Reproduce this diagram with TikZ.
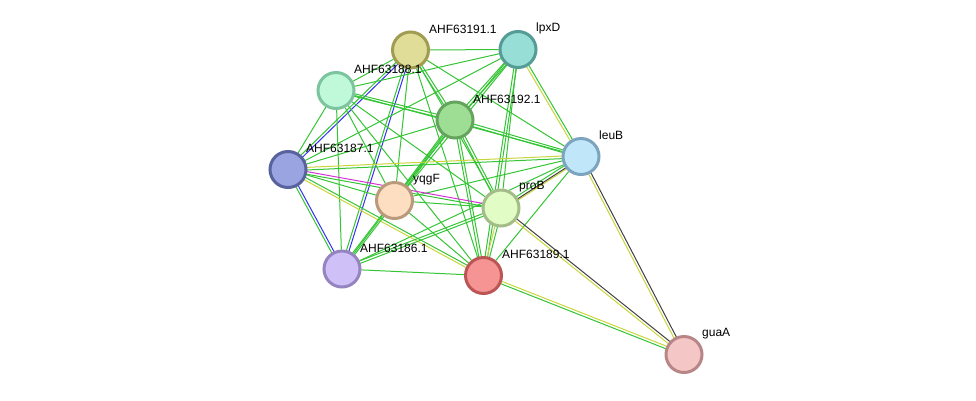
\documentclass[tikz,border=0pt]{standalone}
\usepackage{fontspec}
\setmainfont{Liberation Sans}
\usetikzlibrary{calc, backgrounds}
\definecolor{txtgreen}{RGB}{52,196,52}
\definecolor{coyellow}{RGB}{200,214,60}
\definecolor{fusblue}{RGB}{50,50,240}
\definecolor{coexgray}{RGB}{64,64,64}
\definecolor{expmag}{RGB}{214,50,214}
\tikzstyle{prot} = [circle, minimum size=36pt, inner sep=0pt, line width=3pt]
\tikzstyle{tag} = [anchor=west, font=\fontsize{12}{12}\selectfont, inner sep=0pt]
\tikzstyle{link} = [line width=1pt]
% one line, or two parallel lines of two colours
\newcommand{\wire}[3]{\draw[link, #3] (#1) -- (#2);}
\newcommand{\pair}[4]{%
  \draw[link, #3] ($(#1)!1.3pt!90:(#2)$) -- ($(#2)!1.3pt!-90:(#1)$);
  \draw[link, #4] ($(#1)!1.3pt!-90:(#2)$) -- ($(#2)!1.3pt!90:(#1)$);}

\begin{document}
\begin{tikzpicture}[x=1pt,y=-1pt]
    \useasboundingbox (0,0) rectangle (976,400);
    % proteins
    \node[prot, draw={rgb,255:red,160;green,156;blue,82}, fill={rgb,255:red,223;green,221;blue,152}] (a191) at (410.5,50) {};
    \node[prot, draw={rgb,255:red,86;green,156;blue,150}, fill={rgb,255:red,150;green,222;blue,214}] (lpxd) at (518,49.5) {};
    \node[prot, draw={rgb,255:red,124;green,196;blue,158}, fill={rgb,255:red,192;green,248;blue,218}] (a188) at (336,90.5) {};
    \node[prot, draw={rgb,255:red,100;green,164;blue,92}, fill={rgb,255:red,158;green,222;blue,148}] (a192) at (455,120) {};
    \node[prot, draw={rgb,255:red,124;green,164;blue,190}, fill={rgb,255:red,192;green,230;blue,250}] (leub) at (581,156.5) {};
    \node[prot, draw={rgb,255:red,88;green,98;blue,156}, fill={rgb,255:red,154;green,164;blue,224}] (a187) at (288,169.5) {};
    \node[prot, draw={rgb,255:red,186;green,154;blue,124}, fill={rgb,255:red,254;green,222;blue,192}] (yqgf) at (394.5,200.5) {};
    \node[prot, draw={rgb,255:red,164;green,188;blue,136}, fill={rgb,255:red,226;green,252;blue,198}] (prob) at (501,208) {};
    \node[prot, draw={rgb,255:red,150;green,132;blue,192}, fill={rgb,255:red,208;green,192;blue,248}] (a186) at (342,269) {};
    \node[prot, draw={rgb,255:red,188;green,86;blue,86}, fill={rgb,255:red,246;green,148;blue,148}] (a189) at (483.5,275.5) {};
    \node[prot, draw={rgb,255:red,184;green,134;blue,134}, fill={rgb,255:red,244;green,198;blue,198}] (guaa) at (684,354.5) {};
    % labels
    \node[tag] (l191) at (429,29) {AHF63191.1};
    \node[tag] (llpxd) at (536,28.5) {lpxD};
    \node[tag] (l188) at (354,69.5) {AHF63188.1};
    \node[tag] (l192) at (473,99) {AHF63192.1};
    \node[tag] (lleub) at (599,135.5) {leuB};
    \node[tag] (l187) at (306,148.5) {AHF63187.1};
    \node[tag] (lyqgf) at (413,179.5) {yqgF};
    \node[tag] (lprob) at (519,187) {proB};
    \node[tag] (l186) at (360,248) {AHF63186.1};
    \node[tag] (l189) at (502,254.5) {AHF63189.1};
    \node[tag] (lguaa) at (702,333.5) {guaA};
    % interactions
    \begin{scope}[on background layer]
    \wire{a191}{lpxd}{txtgreen}
    \wire{a191}{a188}{txtgreen}
    \pair{a191}{a187}{fusblue}{txtgreen}
    \pair{a191}{a186}{fusblue}{txtgreen}
    \pair{a191}{a192}{txtgreen}{txtgreen}
    \wire{a191}{yqgf}{txtgreen}
    \wire{a191}{prob}{txtgreen}
    \wire{a191}{a189}{txtgreen}
    \wire{a191}{leub}{txtgreen}
    \wire{lpxd}{a188}{txtgreen}
    \pair{lpxd}{a192}{txtgreen}{txtgreen}
    \wire{lpxd}{a187}{txtgreen}
    \pair{lpxd}{yqgf}{txtgreen}{txtgreen}
    \pair{lpxd}{a189}{txtgreen}{txtgreen}
    \pair{lpxd}{leub}{txtgreen}{coyellow}
    \wire{lpxd}{prob}{txtgreen}
    \pair{a188}{a192}{txtgreen}{txtgreen}
    \wire{a188}{leub}{txtgreen}
    \wire{a188}{a187}{txtgreen}
    \wire{a188}{a186}{txtgreen}
    \wire{a188}{yqgf}{txtgreen}
    \wire{a188}{prob}{txtgreen}
    \wire{a188}{a189}{txtgreen}
    \pair{a192}{leub}{txtgreen}{txtgreen}
    \wire{a192}{a187}{txtgreen}
    \pair{a192}{yqgf}{txtgreen}{txtgreen}
    \pair{a192}{prob}{txtgreen}{txtgreen}
    \pair{a192}{a189}{txtgreen}{txtgreen}
    \wire{a192}{a186}{txtgreen}
    \pair{leub}{a187}{txtgreen}{coyellow}
    \wire{leub}{yqgf}{txtgreen}
    \draw[link, coyellow] ($(leub)!2.6pt!90:(prob)$) -- ($(prob)!2.6pt!-90:(leub)$);
    \pair{leub}{prob}{coexgray}{txtgreen}
    \wire{leub}{a189}{txtgreen}
    \wire{leub}{a186}{txtgreen}
    \pair{leub}{guaa}{coexgray}{coyellow}
    \wire{a187}{yqgf}{txtgreen}
    \pair{a187}{prob}{expmag}{txtgreen}
    \pair{a187}{a186}{fusblue}{txtgreen}
    \pair{a187}{a189}{txtgreen}{coyellow}
    \wire{yqgf}{prob}{txtgreen}
    \pair{yqgf}{a186}{txtgreen}{txtgreen}
    \wire{yqgf}{a189}{txtgreen}
    \pair{prob}{a186}{txtgreen}{txtgreen}
    \pair{prob}{a189}{txtgreen}{coyellow}
    \pair{prob}{guaa}{coexgray}{coyellow}
    \wire{a186}{a189}{txtgreen}
    \pair{a189}{guaa}{coyellow}{txtgreen}
    \end{scope}
\end{tikzpicture}
\end{document}
